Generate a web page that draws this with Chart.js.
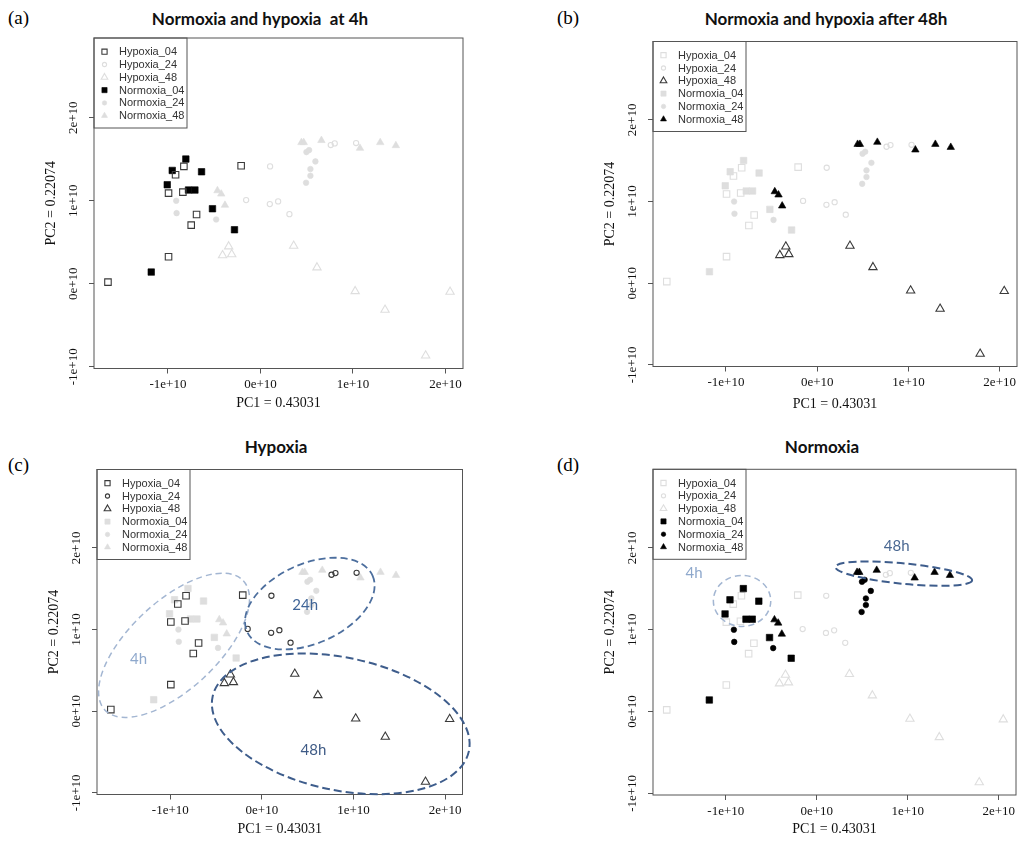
<!DOCTYPE html>
<html><head><meta charset="utf-8">
<script src="https://cdn.jsdelivr.net/npm/chart.js@4/dist/chart.umd.min.js"></script>
<style>
html,body{margin:0;padding:0;background:#fff;}
#wrap{position:relative;width:1024px;height:842px;overflow:hidden;}
canvas{position:absolute;}
.let{position:absolute;font-family:"Liberation Serif";font-size:19px;color:#000;line-height:1;transform:translateY(-50%);}
.ttl{position:absolute;font-family:Lato;font-weight:bold;font-size:17px;color:#111;white-space:pre;line-height:1;transform:translate(-50%,-50%);}
</style></head>
<body><div id="wrap"></div>
<script>
// ---------- data (PC scores in units of 1e10) ----------
const categories = ['Hypoxia_04','Hypoxia_24','Hypoxia_48','Normoxia_04','Normoxia_24','Normoxia_48'];
const hyp04X = [-1.649,-0.994,-0.994,-0.918,-0.828,-0.839,-0.691,-0.749,-0.209];
const hyp04Y = [0.02,1.092,0.325,1.313,1.414,1.104,0.835,0.707,1.422];
const hyp24X = [0.104,-0.155,0.101,0.191,0.313,0.760,0.803,1.034];
const hyp24Y = [1.414,1.008,0.960,0.992,0.839,1.671,1.691,1.695];
const hyp48X = [-0.344,-0.410,-0.311,0.359,0.611,1.024,1.347,1.786,2.050];
const hyp48Y = [0.449,0.343,0.355,0.457,0.196,-0.090,-0.314,-0.865,-0.097];
const nor04X = [-0.807,-0.954,-0.637,-1.008,-0.778,-0.709,-0.519,-0.281,-1.181];
const nor04Y = [1.502,1.365,1.349,1.193,1.129,1.129,0.904,0.651,0.141];
const nor24X = [-0.911,-0.907,-0.479,0.493,0.540,0.540,0.594,0.497,0.526];
const nor24Y = [1.000,0.851,0.775,1.217,1.301,1.382,1.474,1.586,1.610];
const nor48X = [-0.465,-0.424,-0.384,0.443,0.468,0.659,1.076,1.295,1.464];
const nor48Y = [1.122,1.082,0.947,1.702,1.702,1.727,1.633,1.702,1.665];
const seriesX = [hyp04X,hyp24X,hyp48X,nor04X,nor24X,nor48X];
const seriesY = [hyp04Y,hyp24Y,hyp48Y,nor04Y,nor24Y,nor48Y];

const xTickValues = [-1,0,1,2];
const xTickLabels = ['-1e+10','0e+10','1e+10','2e+10'];
const yTickValues = [-1,0,1,2];
const yTickLabels = ['-1e+10','0e+10','1e+10','2e+10'];
const xTitle = 'PC1 = 0.43031';
const yTitle = 'PC2 = 0.22074';
const panelLetters = ['(a)','(b)','(c)','(d)'];
const panelTitles = ['Normoxia and hypoxia  at 4h','Normoxia and hypoxia after 48h','Hypoxia','Normoxia'];
const panelHighlight = [
  ['Hypoxia_04','Normoxia_04'],
  ['Hypoxia_48','Normoxia_48'],
  ['Hypoxia_04','Hypoxia_24','Hypoxia_48'],
  ['Normoxia_04','Normoxia_24','Normoxia_48']
];
// cluster annotations: centre in data units, semi-axes in px, tilt in degrees
const panelClusters = [
  [],
  [],
  [
    {label:'4h', cx:-0.959, cy:0.807, a:94.7, b:44, ang:43, lx:-1.346, ly:0.637, color:'#a3b6d2', lcolor:'#8ea8cc', lw:1.5, dash:[6,4]},
    {label:'24h', cx:0.523, cy:1.318, a:68.7, b:39.8, ang:24, lx:0.472, ly:1.293, color:'#4d6f9e', lcolor:'#3f6497', lw:1.8, dash:[7,4]},
    {label:'48h', cx:0.861, cy:-0.155, a:131, b:66.3, ang:-12, lx:0.563, ly:-0.472, color:'#3e5d8c', lcolor:'#3f5b86', lw:2, dash:[8,4]}
  ],
  [
    {label:'4h', cx:-0.821, cy:1.352, a:28.7, b:25.5, ang:0, lx:-1.348, ly:1.697, color:'#a3b6d2', lcolor:'#8ea8cc', lw:1.5, dash:[6,4]},
    {label:'48h', cx:0.956, cy:1.685, a:68.7, b:10.2, ang:-5.6, lx:0.879, ly:2.015, color:'#3e5d8c', lcolor:'#4a6892', lw:2, dash:[8,4]}
  ]
];

// ---------- layout ----------
const W = 512, H = 421;
const panelPos = [[0,0],[512,0],[0,421],[512,421]];
const panelArea = [
  {L:94, R:463, T:38, B:368.5, xpb:9.3},
  {L:141, R:505, T:41.5, B:366.5, xpb:8.6},
  {L:97, R:462.5, T:48.5, B:373.5, xpb:4.6},
  {L:141, R:504, T:48.3, B:374, xpb:4.6}
];
const letterPos = [[8,17],[557,17],[8,464],[557,464]];
const titlePos = [[260,18],[826,18],[276,446],[822,446]];

const LIGHT = '#dedede';
const DARK_OPEN = '#3a3a3a';
const BLACK = '#000000';

function styleOf(name, hl){
  const open = name.startsWith('Hypoxia');
  const shape = name.endsWith('04') ? 'rect' : (name.endsWith('24') ? 'circle' : 'triangle');
  let r;
  if (shape === 'rect') r = 4.6;
  else if (shape === 'circle') r = open ? 2.6 : 2.8;
  else r = open ? 4.8 : 4.3;
  const col = hl ? (open ? DARK_OPEN : BLACK) : LIGHT;
  return {
    pointStyle: shape, pointRadius: r, pointHoverRadius: r,
    pointBorderWidth: open ? 1.1 : 0.6,
    pointBorderColor: col, pointHoverBorderColor: col,
    pointBackgroundColor: open ? 'rgba(0,0,0,0)' : col,
    pointHoverBackgroundColor: open ? 'rgba(0,0,0,0)' : col
  };
}

const boxPlugin = {
  id:'box',
  afterDraw(chart){
    const {ctx, chartArea:a} = chart;
    ctx.save();
    ctx.strokeStyle = '#555'; ctx.lineWidth = 1;
    ctx.strokeRect(a.left, a.top, a.right - a.left, a.bottom - a.top);
    // rotated y tick labels (R style)
    const s = chart.scales.y;
    ctx.fillStyle = '#111';
    ctx.font = '13px "Liberation Serif"';
    ctx.textAlign = 'center'; ctx.textBaseline = 'middle';
    yTickValues.forEach((v,i) => {
      const y = s.getPixelForValue(v);
      ctx.save();
      ctx.translate(a.left - 20, y);
      ctx.rotate(-Math.PI/2);
      ctx.fillText(yTickLabels[i], 0, 0);
      ctx.restore();
    });
    ctx.restore();
  }
};

const legendPlugin = {
  id:'rlegend',
  afterDraw(chart){
    const {ctx, chartArea:a} = chart;
    ctx.save();
    ctx.strokeStyle = '#555'; ctx.lineWidth = 1;
    ctx.strokeRect(a.left, a.top, 93, 90);
    chart.data.datasets.forEach((ds, i) => {
      const y = a.top + 13.7 + i * 12.8;
      const x = a.left + 10.5;
      ctx.fillStyle = ds.pointBackgroundColor;
      ctx.strokeStyle = ds.pointBorderColor;
      ctx.lineWidth = ds.pointBorderWidth;
      Chart.helpers.drawPoint(ctx, {pointStyle: ds.pointStyle, radius: ds.pointRadius * 0.8, rotation: 0, borderWidth: ds.pointBorderWidth}, x, y);
      ctx.fillStyle = '#333';
      ctx.font = '11px "Liberation Sans"';
      ctx.textAlign = 'left'; ctx.textBaseline = 'middle';
      ctx.fillText(ds.label, a.left + 25, y + 0.5);
    });
    ctx.restore();
  }
};

function clusterPlugin(items){
  return {
    id:'clusters',
    afterDraw(chart){
      const {ctx} = chart;
      const sx = chart.scales.x, sy = chart.scales.y;
      ctx.save();
      items.forEach(e => {
        ctx.beginPath();
        ctx.setLineDash(e.dash);
        ctx.strokeStyle = e.color; ctx.lineWidth = e.lw;
        ctx.ellipse(sx.getPixelForValue(e.cx), sy.getPixelForValue(e.cy), e.a, e.b, -e.ang * Math.PI / 180, 0, Math.PI * 2);
        ctx.stroke();
        ctx.setLineDash([]);
        ctx.fillStyle = e.lcolor;
        ctx.font = '15px Lato';
        ctx.textAlign = 'center'; ctx.textBaseline = 'middle';
        ctx.fillText(e.label, sx.getPixelForValue(e.lx), sy.getPixelForValue(e.ly));
      });
      ctx.restore();
    }
  };
}

const wrap = document.getElementById('wrap');
for (let p = 0; p < 4; p++){
  const lt = document.createElement('div');
  lt.className = 'let'; lt.textContent = panelLetters[p];
  lt.style.left = letterPos[p][0] + 'px'; lt.style.top = letterPos[p][1] + 'px';
  wrap.appendChild(lt);
  const tt = document.createElement('div');
  tt.className = 'ttl'; tt.textContent = panelTitles[p];
  tt.style.left = titlePos[p][0] + 'px'; tt.style.top = titlePos[p][1] + 'px';
  wrap.appendChild(tt);

  const cv = document.createElement('canvas');
  cv.width = W; cv.height = H;
  cv.style.left = panelPos[p][0] + 'px'; cv.style.top = panelPos[p][1] + 'px';
  cv.style.width = W + 'px'; cv.style.height = H + 'px';
  wrap.appendChild(cv);
  const A = panelArea[p];

  const datasets = categories.map((name, i) => {
    const hl = panelHighlight[p].includes(name);
    return Object.assign({
      label: name,
      data: seriesX[i].map((x, j) => ({x: x, y: seriesY[i][j]})),
      order: hl ? 0 : 1,
      showLine: false
    }, styleOf(name, hl));
  });

  new Chart(cv, {
    type: 'scatter',
    data: {datasets},
    options: {
      responsive: false, animation: false, devicePixelRatio: 1,
      events: [],
      layout: {padding: {left: 0, top: A.T, right: W - A.R, bottom: 0}},
      plugins: {legend: {display: false}, tooltip: {enabled: false}, title: {display: false}},
      scales: {
        x: {
          type: 'linear', position: 'bottom', min: -1.80, max: 2.19,
          afterBuildTicks: s => { s.ticks = xTickValues.map(v => ({value: v})); },
          afterFit: s => { s.height = H - A.B; },
          grid: {drawOnChartArea: false, drawTicks: true, tickLength: 5, color: '#555', lineWidth: 1},
          border: {display: false},
          ticks: {font: {family: 'Liberation Serif', size: 13}, color: '#111', padding: 3.5,
                  maxRotation: 0, autoSkip: false, callback: (v, i) => xTickLabels[i]},
          title: {display: true, text: xTitle, color: '#111', font: {family: 'Liberation Serif', size: 14},
                  padding: {top: 0, bottom: A.xpb}}
        },
        y: {
          type: 'linear', position: 'left', min: -1.02, max: 2.96,
          afterBuildTicks: s => { s.ticks = yTickValues.map(v => ({value: v})); },
          afterFit: s => { s.width = A.L; },
          grid: {drawOnChartArea: false, drawTicks: true, tickLength: 5, color: '#555', lineWidth: 1},
          border: {display: false},
          ticks: {font: {family: 'Liberation Serif', size: 13}, color: 'rgba(0,0,0,0)', padding: 3,
                  autoSkip: false, callback: (v, i) => yTickLabels[i]},
          title: {display: true, text: yTitle, color: '#111', font: {family: 'Liberation Serif', size: 14},
                  padding: {top: A.L - 43 - 8.4, bottom: A.L - 43 - 8.4}}
        }
      }
    },
    plugins: [boxPlugin, legendPlugin, clusterPlugin(panelClusters[p])]
  });
}
</script>
</body></html>
